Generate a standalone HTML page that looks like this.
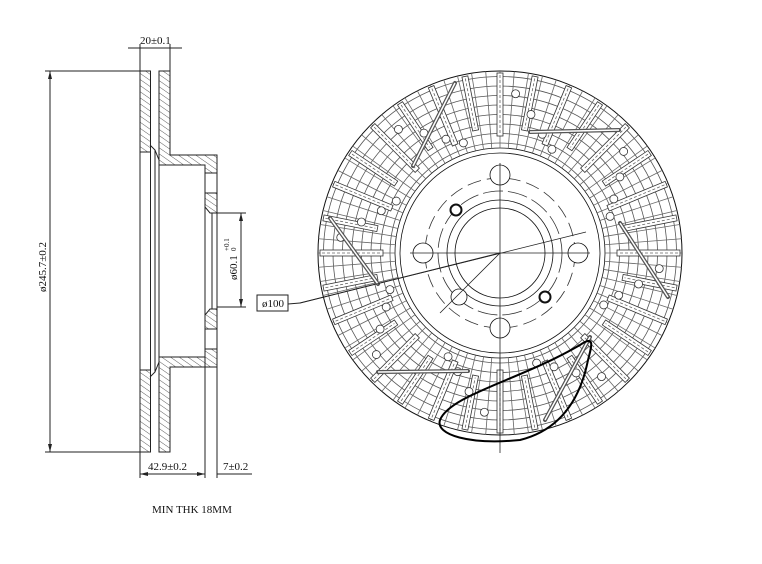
<!DOCTYPE html>
<html><head><meta charset="utf-8">
<style>
html,body{margin:0;padding:0;background:#fff;}
svg{display:block;}
text{font-family:"Liberation Serif","DejaVu Serif",serif;fill:#111;}
</style></head>
<body>
<svg id="s" width="762" height="564" viewBox="0 0 762 564" xmlns="http://www.w3.org/2000/svg">
<defs>
<pattern id="h" width="5" height="5" patternUnits="userSpaceOnUse" patternTransform="rotate(-55)">
<line x1="0" y1="0" x2="0" y2="5" stroke="#333" stroke-width="0.8"/>
</pattern>
</defs>
<g stroke="#222" stroke-width="1" fill="none">
<!-- side view: top half -->
<rect x="140" y="71" width="10.5" height="81" fill="url(#h)"/>
<path d="M159 71 H170 V155 H217 V173 H205 V165 H159 Z" fill="url(#h)"/>
<path d="M205 193 H217 V213 H210 L205 207 Z" fill="url(#h)"/>
<path d="M150 145 L155 150 L159 160"/>
<!-- bottom half -->
<rect x="140" y="370" width="10.5" height="82" fill="url(#h)"/>
<path d="M159 452 H170 V367 H217 V349 H205 V357 H159 Z" fill="url(#h)"/>
<path d="M205 329 H217 V309 H210 L205 315 Z" fill="url(#h)"/>
<path d="M150 377 L155 372 L159 362"/>
<!-- vertical lines -->
<line x1="140" y1="152" x2="140" y2="370"/>
<line x1="150.5" y1="152" x2="150.5" y2="370"/>
<line x1="155" y1="150" x2="155" y2="372"/>
<line x1="159" y1="165" x2="159" y2="357"/>
<line x1="205" y1="173" x2="205" y2="349"/>
<line x1="212" y1="213" x2="212" y2="309"/>
<line x1="217" y1="173" x2="217" y2="349"/>
<line x1="205" y1="349" x2="205" y2="478"/>
<line x1="217" y1="349" x2="217" y2="478"/>
<line x1="140" y1="452" x2="140" y2="478"/>
<!-- dims -->
<line x1="45" y1="71" x2="140" y2="71"/>
<line x1="45" y1="452" x2="140" y2="452"/>
<line x1="50" y1="71" x2="50" y2="452"/>
<line x1="140" y1="44" x2="140" y2="71"/>
<line x1="170" y1="44" x2="170" y2="71"/>
<line x1="128" y1="48" x2="182" y2="48"/>
<line x1="140" y1="474" x2="205" y2="474"/>
<line x1="217" y1="474" x2="252" y2="474"/>
<line x1="217" y1="213" x2="246" y2="213"/>
<line x1="217" y1="307" x2="246" y2="307"/>
<line x1="241" y1="213" x2="241" y2="307"/>
<rect x="257" y="295" width="31" height="16"/>
<line x1="288" y1="304" x2="300" y2="303"/>
<line x1="300" y1="303" x2="500" y2="253"/>
</g>
<g fill="#222">
<path d="M50 71 l-2 8 h4z"/><path d="M50 452 l-2 -8 h4z"/>
<path d="M241 213 l-2 8 h4z"/><path d="M241 307 l-2 -8 h4z"/>
<path d="M140 474 l8 -2 v4z"/><path d="M205 474 l-8 -2 v4z"/>
</g>
<text x="140" y="44" font-size="11">20±0.1</text>
<text x="0" y="0" font-size="11" transform="translate(46,292) rotate(-90)">ø245.7±0.2</text>
<text x="0" y="0" font-size="11" transform="translate(237,280) rotate(-90)">ø60.1</text>
<text x="0" y="0" font-size="7" transform="translate(229,251) rotate(-90)">+0.1</text>
<text x="0" y="0" font-size="7" transform="translate(236,251) rotate(-90)">0</text>
<text x="148" y="470" font-size="11">42.9±0.2</text>
<text x="223" y="470" font-size="11">7±0.2</text>
<text x="262" y="307" font-size="11">ø100</text>
<text x="152" y="513" font-size="11">MIN THK 18MM</text>
<g id="disc" stroke="#333" stroke-width="0.8" fill="none"></g>
</svg>
<script>
(function(){
var g=document.getElementById('disc'),cx=500,cy=253,ns="http://www.w3.org/2000/svg",o='';
function c(r,extra){o+='<circle cx="'+cx+'" cy="'+cy+'" r="'+r+'" '+(extra||'')+'/>';}
c(182,'stroke="#111" stroke-width="1"');
for(var r=110;r<182;r+=9.5)c(r,'stroke="#555"');
c(105,'stroke="#111"');c(100,'stroke="#111"');
for(var i=0;i<80;i++){var a=i*Math.PI*2/80;
o+='<line x1="'+(cx+105*Math.cos(a))+'" y1="'+(cy+105*Math.sin(a))+'" x2="'+(cx+182*Math.cos(a))+'" y2="'+(cy+182*Math.sin(a))+'" stroke="#666"/>';}
for(var i=0;i<32;i++){var d=i*360/32;var L=(i%2)?55:63;
o+='<rect x="-3" y="'+(-180)+'" width="6" height="'+L+'" transform="translate('+cx+','+cy+') rotate('+d+')" fill="#fff" stroke="#333"/>';
o+='<line x1="0" y1="-178" x2="0" y2="'+(-182+L)+'" transform="translate('+cx+','+cy+') rotate('+d+')" stroke="#666" stroke-dasharray="3,2"/>';}
for(var k=0;k<8;k++){var rs=[160,142,126,116];for(var j=0;j<4;j++){var d=k*45+5.6+j*7-90;var a=d*Math.PI/180;
o+='<circle cx="'+(cx+rs[j]*Math.cos(a))+'" cy="'+(cy+rs[j]*Math.sin(a))+'" r="4" fill="#fff"/>';}}
// inclined bars
var bars=[[455,83,413,166],[619,130,530,132],[330,218,378,284],[620,223,668,297],[378,372,468,371],[590,337,545,420]];
bars.forEach(function(b){o+='<line x1="'+b[0]+'" y1="'+b[1]+'" x2="'+b[2]+'" y2="'+b[3]+'" stroke="#555" stroke-width="4" stroke-linecap="round"/><line x1="'+b[0]+'" y1="'+b[1]+'" x2="'+b[2]+'" y2="'+b[3]+'" stroke="#fff" stroke-width="1.5"/>';});
// hub
c(53,'stroke="#111"');c(45,'stroke="#111"');c(75,'stroke="#333" stroke-dasharray="14,6"');c(62,'stroke="#333" stroke-dasharray="20,5"');
[[0,-78,10],[-77,0,10],[78,0,10],[0,75,10],[-41,44,8]].forEach(function(p){o+='<circle cx="'+(cx+p[0])+'" cy="'+(cy+p[1])+'" r="'+p[2]+'" fill="#fff" stroke="#111"/>';});
[[-44,-43],[45,44]].forEach(function(p){o+='<circle cx="'+(cx+p[0])+'" cy="'+(cy+p[1])+'" r="5.5" fill="#fff" stroke="#111" stroke-width="2"/>';});
o+='<line x1="'+cx+'" y1="'+(cy-90)+'" x2="'+cx+'" y2="'+(cy+200)+'" stroke="#222"/>';
o+='<line x1="'+(cx-90)+'" y1="'+cy+'" x2="'+(cx+90)+'" y2="'+cy+'" stroke="#222"/>';
o+='<line x1="500" y1="253" x2="440" y2="313" stroke="#222"/>';
o+='<line x1="300" y1="303" x2="586" y2="232" stroke="#222"/>';
// bold loop
o+='<path d="M440 420 C450 395 520 380 580 345 C595 335 592 345 588 360 C580 400 560 430 520 440 C470 445 435 435 440 420 Z" stroke="#000" stroke-width="2"/>';
g.innerHTML=o;
})();
</script>
</body></html>
